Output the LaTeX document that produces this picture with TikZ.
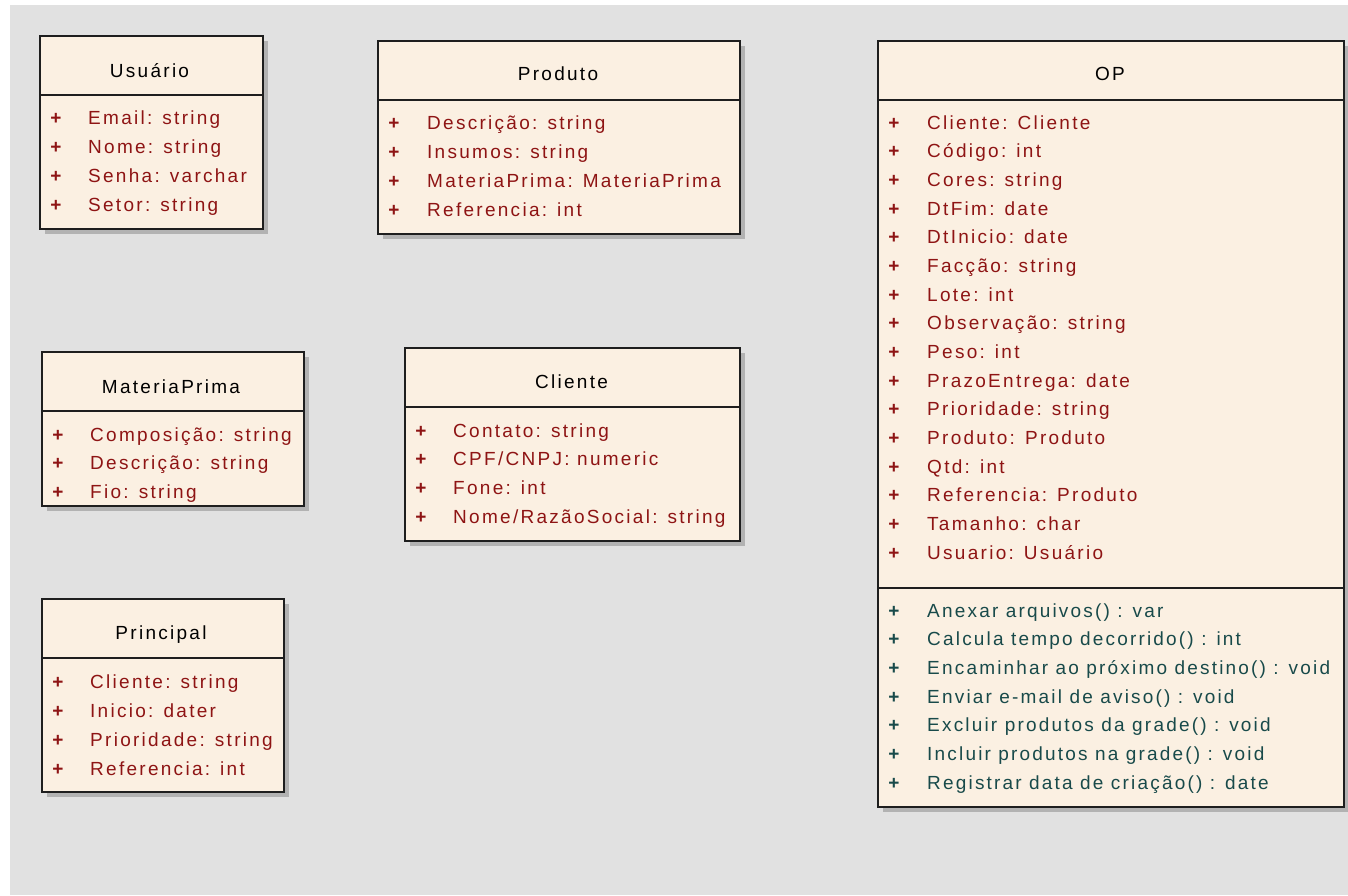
\documentclass[tikz,border=0pt]{standalone}
\usepackage{fontspec}
\setmainfont{Liberation Sans}
\newfontfamily\attrfont[LetterSpace=12]{Liberation Sans}
\newfontfamily\methfont[LetterSpace=11.5]{Liberation Sans}
\usetikzlibrary{shadows}
\definecolor{bgray}{HTML}{E1E1E1}
\definecolor{cream}{HTML}{FBF0E2}
\definecolor{attrred}{HTML}{8E1414}
\definecolor{methteal}{HTML}{184A4A}
\definecolor{shadowgray}{HTML}{B2B2B2}
\definecolor{edge}{HTML}{1E1E1E}
\tikzset{
  cls/.style={draw=edge, line width=1.8pt, fill=cream, anchor=north west, inner sep=0pt,
    drop shadow={shadow xshift=5pt, shadow yshift=-5pt, fill=shadowgray, opacity=1}},
  sepline/.style={draw=edge, line width=1.8pt},
  ttl/.style={inner sep=0pt, anchor=base, font=\attrfont\fontsize{19}{22}\selectfont, text=black},
  plus/.style={inner sep=0pt, anchor=base, font=\bfseries\fontsize{19}{22}\selectfont},
  attr/.style={inner sep=0pt, anchor=base west, font=\attrfont\fontsize{19}{22}\selectfont, text=attrred},
  meth/.style={inner sep=0pt, anchor=base west, font=\methfont\fontsize{19}{22}\selectfont, text=methteal},
}
\begin{document}
\begin{tikzpicture}[x=1pt, y=-1pt]
\useasboundingbox (0,0) rectangle (1348,895);
\fill[white] (0,0) rectangle (1348,895);
\fill[bgray] (10,5) rectangle (1348,895);

% Usuario
\node[cls, minimum width=223pt, minimum height=193pt] (usr) at (39,35) {};
\draw[sepline] (usr.west |- 0,95) -- (usr.east |- 0,95);
\node[ttl] (usr-t) at (149.5,77) {Usuário};
\foreach \t [count=\i from 0] in {{Email: string},{Nome: string},{Senha: varchar},{Setor: string}} {
  \node[plus, text=attrred] (usr-p\i) at (56,124+29*\i) {+};
  \node[attr] (usr-a\i) at (88,124+29*\i) {\t};
}

% Produto
\node[cls, minimum width=362pt, minimum height=193pt] (prd) at (377,40) {};
\draw[sepline] (prd.west |- 0,100) -- (prd.east |- 0,100);
\node[ttl] (prd-t) at (558,80) {Produto};
\foreach \t [count=\i from 0] in {{Descrição: string},{Insumos: string},{MateriaPrima: MateriaPrima},{Referencia: int}} {
  \node[plus, text=attrred] (prd-p\i) at (394,129+29*\i) {+};
  \node[attr] (prd-a\i) at (427,129+29*\i) {\t};
}

% OP
\node[cls, minimum width=466pt, minimum height=766pt] (op) at (877,40) {};
\draw[sepline] (op.west |- 0,100) -- (op.east |- 0,100);
\draw[sepline] (op.west |- 0,588) -- (op.east |- 0,588);
\node[ttl] (op-t) at (1110,80) {OP};
\foreach \t [count=\i from 0] in {{Cliente: Cliente},{Código: int},{Cores: string},{DtFim: date},{DtInicio: date},{Facção: string},{Lote: int},{Observação: string},{Peso: int},{PrazoEntrega: date},{Prioridade: string},{Produto: Produto},{Qtd: int},{Referencia: Produto},{Tamanho: char},{Usuario: Usuário}} {
  \node[plus, text=attrred] (op-p\i) at (894,129+28.67*\i) {+};
  \node[attr] (op-a\i) at (927,129+28.67*\i) {\t};
}
\foreach \t [count=\i from 0] in {{Anexar arquivos() : var},{Calcula tempo decorrido() : int},{Encaminhar ao próximo destino() : void},{Enviar e-mail de aviso() : void},{Excluir produtos da grade() : void},{Incluir produtos na grade() : void},{Registrar data de criação() : date}} {
  \node[plus, text=methteal] (op-mp\i) at (894,617+28.67*\i) {+};
  \node[meth] (op-m\i) at (927,617+28.67*\i) {\t};
}

% MateriaPrima
\node[cls, minimum width=262pt, minimum height=154pt] (mp) at (41,351) {};
\draw[sepline] (mp.west |- 0,411) -- (mp.east |- 0,411);
\node[ttl] (mp-t) at (171,393) {MateriaPrima};
\foreach \t [count=\i from 0] in {{Composição: string},{Descrição: string},{Fio: string}} {
  \node[plus, text=attrred] (mp-p\i) at (58,441+28.5*\i) {+};
  \node[attr] (mp-a\i) at (90,441+28.5*\i) {\t};
}

% Cliente
\node[cls, minimum width=335pt, minimum height=193pt] (cli) at (404,347) {};
\draw[sepline] (cli.west |- 0,407) -- (cli.east |- 0,407);
\node[ttl] (cli-t) at (571.5,388) {Cliente};
\foreach \t [count=\i from 0] in {{Contato: string},{CPF/CNPJ: numeric},{Fone: int},{Nome/RazãoSocial: string}} {
  \node[plus, text=attrred] (cli-p\i) at (421,437+28.7*\i) {+};
  \node[attr] (cli-a\i) at (453,437+28.7*\i) {\t};
}

% Principal
\node[cls, minimum width=242pt, minimum height=193pt] (pri) at (41,598) {};
\draw[sepline] (pri.west |- 0,658) -- (pri.east |- 0,658);
\node[ttl] (pri-t) at (161,639) {Principal};
\foreach \t [count=\i from 0] in {{Cliente: string},{Inicio: dater},{Prioridade: string},{Referencia: int}} {
  \node[plus, text=attrred] (pri-p\i) at (58,688+29*\i) {+};
  \node[attr] (pri-a\i) at (90,688+29*\i) {\t};
}
\end{tikzpicture}
\end{document}
